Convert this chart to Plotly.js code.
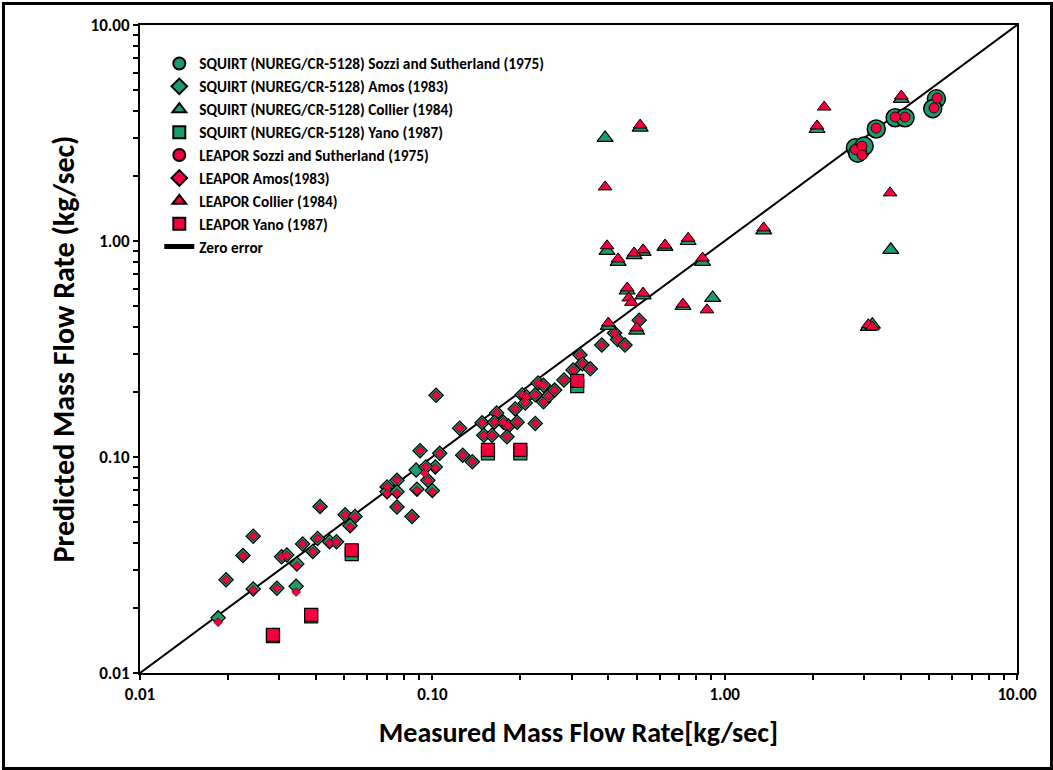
<!DOCTYPE html>
<html>
<head>
<meta charset="utf-8">
<script src="https://cdn.plot.ly/plotly-3.0.1.min.js"></script>
<style>
  html, body { margin: 0; padding: 0; background: #fff; }
  #wrap { position: relative; width: 1053px; height: 770px; }
  #chart { width: 1053px; height: 770px; }
  #frame { position: absolute; left: 2px; top: 2px; width: 1045px; height: 762px;
           border: 3px solid #000; pointer-events: none; }
</style>
</head>
<body>
<div id="wrap"><div id="chart"></div><div id="frame"></div></div>
<script>
// ---------- data ----------
// Sozzi and Sutherland (1975) - circles
const squirtSozziX = [2.80, 2.90, 3.00, 2.85, 3.30, 3.83, 4.14, 5.30, 5.15];
const squirtSozziY = [2.70, 2.60, 2.75, 2.55, 3.30, 3.72, 3.72, 4.55, 4.10];
const leaporSozziX = [2.80, 2.95, 2.95, 3.30, 3.83, 4.14, 5.33, 5.20];
const leaporSozziY = [2.65, 2.75, 2.50, 3.33, 3.75, 3.75, 4.59, 4.13];

// Amos (1983) - diamonds
const squirtAmosX = [0.0185, 0.0197, 0.0225, 0.0244, 0.0244, 0.0294, 0.0342, 0.0305, 0.0318, 0.0344,
  0.036, 0.039, 0.0405, 0.0413, 0.0445, 0.047, 0.0503, 0.0544, 0.0523, 0.070,
  0.0757, 0.070, 0.0757, 0.0757, 0.0852, 0.088, 0.0908, 0.0886, 0.100, 0.1024,
  0.0965, 0.103, 0.106, 0.124, 0.127, 0.137, 0.148, 0.150, 0.160, 0.166,
  0.163, 0.175, 0.182, 0.180, 0.192, 0.195, 0.225, 0.203, 0.210, 0.208,
  0.225, 0.230, 0.240, 0.240, 0.250, 0.262, 0.282, 0.303, 0.320, 0.326,
  0.347, 0.380, 0.420, 0.430, 0.456, 0.510, 0.095];
const squirtAmosY = [0.0180, 0.0270, 0.0350, 0.0430, 0.0245, 0.0247, 0.0252, 0.0345, 0.0352, 0.0320,
  0.0396, 0.0365, 0.0420, 0.0590, 0.0405, 0.0405, 0.0540, 0.0530, 0.0480, 0.0726,
  0.0780, 0.0690, 0.0690, 0.0587, 0.0530, 0.0870, 0.1070, 0.0710, 0.0700, 0.0900,
  0.0780, 0.1930, 0.1040, 0.1360, 0.1020, 0.0950, 0.1440, 0.1260, 0.1260, 0.1600,
  0.1450, 0.1450, 0.1390, 0.1240, 0.1670, 0.1450, 0.1430, 0.1940, 0.1900, 0.1780,
  0.1940, 0.2200, 0.2150, 0.1800, 0.1920, 0.2040, 0.2270, 0.2530, 0.2970, 0.2700,
  0.2560, 0.3300, 0.3750, 0.3500, 0.3300, 0.4300, 0.0900];
const leaporAmosX = [0.0185, 0.0197, 0.0225, 0.0244, 0.0244, 0.0294, 0.0342, 0.0305, 0.0318, 0.0344,
  0.036, 0.039, 0.0405, 0.0413, 0.0445, 0.047, 0.0503, 0.0544, 0.0523, 0.070,
  0.0757, 0.070, 0.0757, 0.0757, 0.0852, 0.094, 0.0908, 0.0886, 0.100, 0.1024,
  0.0965, 0.103, 0.106, 0.124, 0.127, 0.137, 0.148, 0.150, 0.160, 0.166,
  0.163, 0.175, 0.182, 0.180, 0.192, 0.195, 0.225, 0.203, 0.210, 0.208,
  0.225, 0.230, 0.240, 0.240, 0.250, 0.262, 0.282, 0.303, 0.320, 0.326,
  0.347, 0.380, 0.420, 0.430, 0.456, 0.510, 0.095];
const leaporAmosY = [0.0172, 0.0270, 0.0348, 0.0430, 0.0242, 0.0247, 0.0237, 0.0345, 0.0350, 0.0313,
  0.0396, 0.0364, 0.0420, 0.0587, 0.0400, 0.0404, 0.0539, 0.0528, 0.0474, 0.0726,
  0.0783, 0.0680, 0.0680, 0.0587, 0.0528, 0.0843, 0.1070, 0.0700, 0.0690, 0.0890,
  0.0780, 0.1930, 0.1040, 0.1360, 0.1020, 0.0950, 0.1440, 0.1260, 0.1260, 0.1600,
  0.1450, 0.1450, 0.1390, 0.1240, 0.1670, 0.1450, 0.1430, 0.1940, 0.1900, 0.1780,
  0.1940, 0.2200, 0.2150, 0.1800, 0.1920, 0.2040, 0.2270, 0.2530, 0.2970, 0.2700,
  0.2560, 0.3300, 0.3750, 0.3500, 0.3300, 0.4300, 0.0900];

// Collier (1984) - triangles
const squirtCollierX = [0.39, 0.514, 2.07, 4.02, 3.70, 3.10, 3.20, 1.36, 0.84, 0.91,
  0.396, 0.432, 0.49, 0.526, 0.625, 0.75, 0.464, 0.526, 0.72, 0.40, 0.50];
const squirtCollierY = [3.00, 3.35, 3.30, 4.55, 0.91, 0.40, 0.41, 1.12, 0.80, 0.545,
  0.90, 0.80, 0.86, 0.89, 0.94, 1.00, 0.59, 0.56, 0.50, 0.405, 0.385];
const leaporCollierX = [0.514, 0.39, 2.07, 2.19, 4.02, 3.68, 3.10, 3.20, 1.36, 0.84,
  0.87, 0.396, 0.432, 0.49, 0.526, 0.625, 0.75, 0.464, 0.47, 0.48, 0.526, 0.72, 0.40, 0.50];
const leaporCollierY = [3.44, 1.78, 3.41, 4.17, 4.69, 1.67, 0.41, 0.40, 1.15, 0.834,
  0.48, 0.95, 0.826, 0.88, 0.91, 0.957, 1.03, 0.606, 0.545, 0.52, 0.574, 0.51, 0.417, 0.396];

// Yano (1987) - squares
const squirtYanoX = [0.0285, 0.0385, 0.053, 0.155, 0.200, 0.313];
const squirtYanoY = [0.0148, 0.0183, 0.0355, 0.104, 0.104, 0.213];
const leaporYanoX = [0.0285, 0.0385, 0.053, 0.155, 0.200, 0.313];
const leaporYanoY = [0.0150, 0.0186, 0.0370, 0.108, 0.108, 0.225];

// zero-error reference line
const zeroX = [0.01, 10];
const zeroY = [0.01, 10];

// axis ticks
const decadeVals = [0.01, 0.1, 1, 10];
const decadeLabels = ['0.01', '0.10', '1.00', '10.00'];

// ---------- styling ----------
const GREEN = '#1c9b6b';
const RED = '#f5003d';
const FONT = "Carlito, 'Liberation Sans Narrow', 'Liberation Sans', sans-serif";

const tickVals = [], tickText = [];
decadeVals.forEach((d, i) => {
  if (i < decadeVals.length - 1) {
    for (let k = 1; k <= 9; k++) {
      tickVals.push(d * k);
      tickText.push(k === 1 ? decadeLabels[i] : '');
    }
  } else {
    tickVals.push(d);
    tickText.push(decadeLabels[i]);
  }
});

function pts(name, x, y, symbol, size, color, lw, group) {
  return {
    type: 'scatter', mode: 'markers', name: name, x: x, y: y,
    legendgroup: group,
    marker: { symbol: symbol, size: size, color: color, line: { color: '#000', width: lw } },
    hoverinfo: 'x+y+name'
  };
}

const traces = [
  { type: 'scatter', mode: 'lines', name: 'Zero error', x: zeroX, y: zeroY,
    line: { color: '#000', width: 2 }, legendrank: 2000, legendgroup: 'g9' },
  pts('SQUIRT (NUREG/CR-5128) Sozzi and Sutherland (1975)', squirtSozziX, squirtSozziY, 'circle', 18, GREEN, 1.5, 'g1'),
  pts('SQUIRT (NUREG/CR-5128) Amos (1983)', squirtAmosX, squirtAmosY, 'diamond', 11, GREEN, 1.2, 'g2'),
  pts('SQUIRT (NUREG/CR-5128) Collier (1984)', squirtCollierX, squirtCollierY, 'triangle-up', 14, GREEN, 1.2, 'g3'),
  pts('SQUIRT (NUREG/CR-5128) Yano (1987)', squirtYanoX, squirtYanoY, 'square', 13, GREEN, 1.2, 'g4'),
  pts('LEAPOR Sozzi and Sutherland (1975)', leaporSozziX, leaporSozziY, 'circle', 10, RED, 0.8, 'g5'),
  pts('LEAPOR Amos(1983)', leaporAmosX, leaporAmosY, 'diamond', 7, RED, 0.5, 'g6'),
  pts('LEAPOR Collier (1984)', leaporCollierX, leaporCollierY, 'triangle-up', 12, RED, 1, 'g7'),
  pts('LEAPOR Yano (1987)', leaporYanoX, leaporYanoY, 'square', 13, RED, 1.2, 'g8')
];
traces.forEach((t, i) => { if (i > 0) t.legendrank = 1000 + i; });

const axisCommon = {
  type: 'log', range: [-2, 1], autorange: false,
  tickmode: 'array', tickvals: tickVals, ticktext: tickText,
  ticks: 'outside', ticklen: 5, tickwidth: 1.5, tickcolor: '#000',
  showline: true, linecolor: '#000', linewidth: 2, mirror: true,
  showgrid: false, zeroline: false,
  tickfont: { family: FONT, size: 17, color: '#000', weight: 'bold' }
};

const layout = {
  width: 1053, height: 770,
  margin: { l: 140, r: 36, t: 25, b: 97 },
  paper_bgcolor: '#fff', plot_bgcolor: '#fff',
  font: { family: FONT, color: '#000' },
  showlegend: true,
  legend: {
    x: 0.022, y: 0.966, xanchor: 'left', yanchor: 'top',
    bgcolor: 'rgba(255,255,255,0)', borderwidth: 0,
    font: { family: FONT, size: 15.3, color: '#000', weight: 'bold' },
    itemsizing: 'constant', tracegroupgap: 6.5, traceorder: 'normal'
  },
  xaxis: Object.assign({}, axisCommon, {
    title: { text: 'Measured Mass Flow Rate[kg/sec]', standoff: 18,
             font: { family: FONT, size: 28, color: '#000', weight: 'bold' } }
  }),
  yaxis: Object.assign({}, axisCommon, {
    title: { text: 'Predicted Mass Flow Rate (kg/sec)', standoff: 7,
             font: { family: FONT, size: 30, color: '#000', weight: 'bold' } }
  })
};

Plotly.newPlot('chart', traces, layout, { displayModeBar: false, staticPlot: false });
</script>
</body>
</html>
